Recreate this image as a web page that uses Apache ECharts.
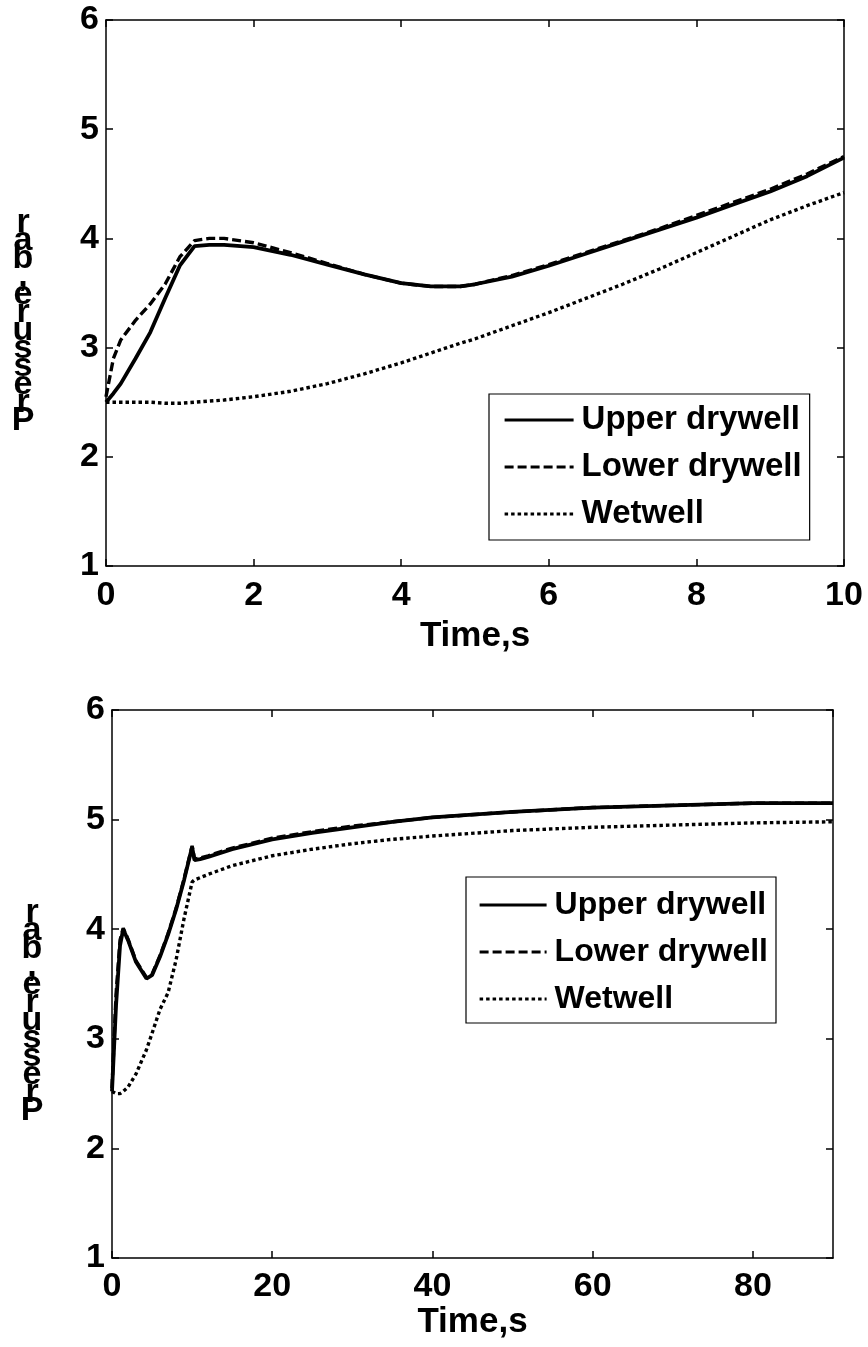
<!DOCTYPE html>
<html><head><meta charset="utf-8">
<script src="https://cdn.jsdelivr.net/npm/echarts@6/dist/echarts.min.js"></script>
<style>html,body{margin:0;padding:0;background:#fff}#c{width:868px;height:1347px}</style>
</head><body><div id="c"></div>
<script>
// ---- data ----
const seriesNames = ['Upper drywell', 'Lower drywell', 'Wetwell'];
const yLabelChars = ['r','a','b',',','e','r','u','s','s','e','r','P'];

const topTime  = [0,0.1,0.2,0.4,0.6,0.8,1.0,1.2,1.4,1.6,2.0,2.5,3.0,3.5,4.0,4.4,4.8,5.0,5.5,6.0,6.5,7.0,7.5,8.0,8.5,9.0,9.5,10.0];
const topUpper = [2.50,2.58,2.67,2.90,3.14,3.45,3.75,3.93,3.94,3.94,3.92,3.85,3.76,3.67,3.59,3.56,3.56,3.58,3.65,3.75,3.86,3.97,4.08,4.19,4.31,4.43,4.57,4.74];
const topLower = [2.55,2.90,3.07,3.25,3.40,3.58,3.83,3.98,4.00,4.00,3.96,3.87,3.77,3.67,3.59,3.56,3.56,3.58,3.66,3.76,3.87,3.98,4.09,4.21,4.33,4.45,4.59,4.75];
const topWet   = [2.50,2.50,2.50,2.50,2.50,2.49,2.49,2.50,2.51,2.52,2.55,2.60,2.67,2.76,2.86,2.95,3.04,3.08,3.20,3.32,3.45,3.58,3.72,3.87,4.02,4.17,4.30,4.42];

const botTime  = [0,0.5,1.0,1.4,2,3,4.3,5,6,7,8,9,10,10.3,11,12,15,20,25,30,35,40,50,60,70,80,90];
const botUpper = [2.52,3.30,3.85,4.00,3.90,3.70,3.55,3.58,3.75,3.95,4.18,4.45,4.75,4.63,4.64,4.66,4.73,4.82,4.88,4.93,4.98,5.02,5.07,5.11,5.13,5.15,5.15];
const botLower = [2.55,3.40,3.90,4.01,3.91,3.71,3.56,3.59,3.76,3.96,4.19,4.46,4.76,4.64,4.65,4.67,4.74,4.83,4.89,4.94,4.98,5.02,5.07,5.11,5.13,5.15,5.15];
const botWet   = [2.52,2.50,2.50,2.52,2.56,2.68,2.90,3.05,3.27,3.42,3.72,4.10,4.43,4.45,4.47,4.50,4.58,4.67,4.73,4.78,4.82,4.85,4.90,4.93,4.95,4.97,4.98];

const topXRange = [0, 10, 2];   // min, max, interval
const botXRange = [0, 90, 20];
const yRange    = [1, 6, 1];
// -----------------------------------------

const FONT = '"Liberation Sans", Arial, sans-serif';
const pair = (t, v) => t.map((x, i) => [x, v[i]]);
const lineStyles = [
  {type: 'solid', width: 3.8},
  {type: [9, 4], width: 3.4},
  {type: [3.5, 3], width: 3.4}
];

function axesFor(gi, xr, labelMargin, xGap) {
  const tick = {show: true, inside: true, length: 7, lineStyle: {color: '#000', width: 1.5}};
  const line = {show: true, onZero: false, lineStyle: {color: '#000', width: 1.5}};
  const lbl = {color: '#000', fontFamily: FONT, fontWeight: 'bold', fontSize: 34};
  return {
    x: [
      {type: 'value', gridIndex: gi, min: xr[0], max: xr[1], interval: xr[2], position: 'bottom',
       axisLine: line, axisTick: tick, splitLine: {show: false},
       axisLabel: Object.assign({margin: labelMargin, showMaxLabel: xr[1] % xr[2] === 0}, lbl),
       name: 'Time,s', nameLocation: 'middle', nameGap: xGap,
       nameTextStyle: {color: '#000', fontFamily: FONT, fontWeight: 'bold', fontSize: 35}},
      {type: 'value', gridIndex: gi, min: xr[0], max: xr[1], interval: xr[2], position: 'top',
       axisLine: line, axisTick: tick, axisLabel: {show: false}, splitLine: {show: false}}
    ],
    y: [
      {type: 'value', gridIndex: gi, min: yRange[0], max: yRange[1], interval: yRange[2], position: 'left',
       axisLine: line, axisTick: tick, splitLine: {show: false},
       axisLabel: Object.assign({margin: 7}, lbl)},
      {type: 'value', gridIndex: gi, min: yRange[0], max: yRange[1], interval: yRange[2], position: 'right',
       axisLine: line, axisTick: tick, axisLabel: {show: false}, splitLine: {show: false}}
    ]
  };
}

const a0 = axesFor(0, topXRange, 13, 53);
const a1 = axesFor(1, botXRange, 12, 39);

function mk(name, data, idx, gi) {
  return {
    type: 'line', name: name, data: data, xAxisIndex: gi * 2, yAxisIndex: gi * 2,
    symbol: 'none', smooth: false, silent: true, animation: false,
    lineStyle: Object.assign({color: '#000'}, lineStyles[idx]),
    itemStyle: {color: '#000'}
  };
}

const legendBase = {
  orient: 'vertical', borderColor: '#000', borderWidth: 1.2, backgroundColor: '#fff',
  itemWidth: 69, itemHeight: 14, itemGap: 7,
  itemStyle: {opacity: 0},
  lineStyle: {width: 3.2},
  textStyle: {color: '#000', fontFamily: FONT, fontWeight: 'bold', fontSize: 33, lineHeight: 40, padding: [0, 0, 0, 3]},
  data: seriesNames.slice(),
  selectedMode: false
};

const yLabelStyle = {
  text: yLabelChars.join('\n'), fill: '#000', font: 'bold 34px ' + FONT,
  lineHeight: 18, align: 'center', verticalAlign: 'top'
};

const chart = echarts.init(document.getElementById('c'), null, {renderer: 'canvas'});
chart.setOption({
  animation: false,
  backgroundColor: '#fff',
  grid: [
    {left: 106, right: 24, top: 20, height: 546},
    {left: 112, right: 35, top: 710, height: 548}
  ],
  xAxis: a0.x.concat(a1.x),
  yAxis: a0.y.concat(a1.y),
  legend: [
    Object.assign({}, legendBase, {left: 489, top: 394, padding: [6, 8, 6, 14]}),
    Object.assign({}, legendBase, {left: 466, top: 877, itemWidth: 67, itemGap: 7,
      textStyle: Object.assign({}, legendBase.textStyle, {fontSize: 32}), padding: [8, 8, 4, 12]})
  ],
  graphic: [
    {type: 'text', x: 23, y: 214, silent: true, style: yLabelStyle},
    {type: 'text', x: 32, y: 904, silent: true, style: yLabelStyle}
  ],
  series: [
    mk(seriesNames[0], pair(topTime, topUpper), 0, 0),
    mk(seriesNames[1], pair(topTime, topLower), 1, 0),
    mk(seriesNames[2], pair(topTime, topWet), 2, 0),
    mk(seriesNames[0], pair(botTime, botUpper), 0, 1),
    mk(seriesNames[1], pair(botTime, botLower), 1, 1),
    mk(seriesNames[2], pair(botTime, botWet), 2, 1)
  ]
});
</script></body></html>
